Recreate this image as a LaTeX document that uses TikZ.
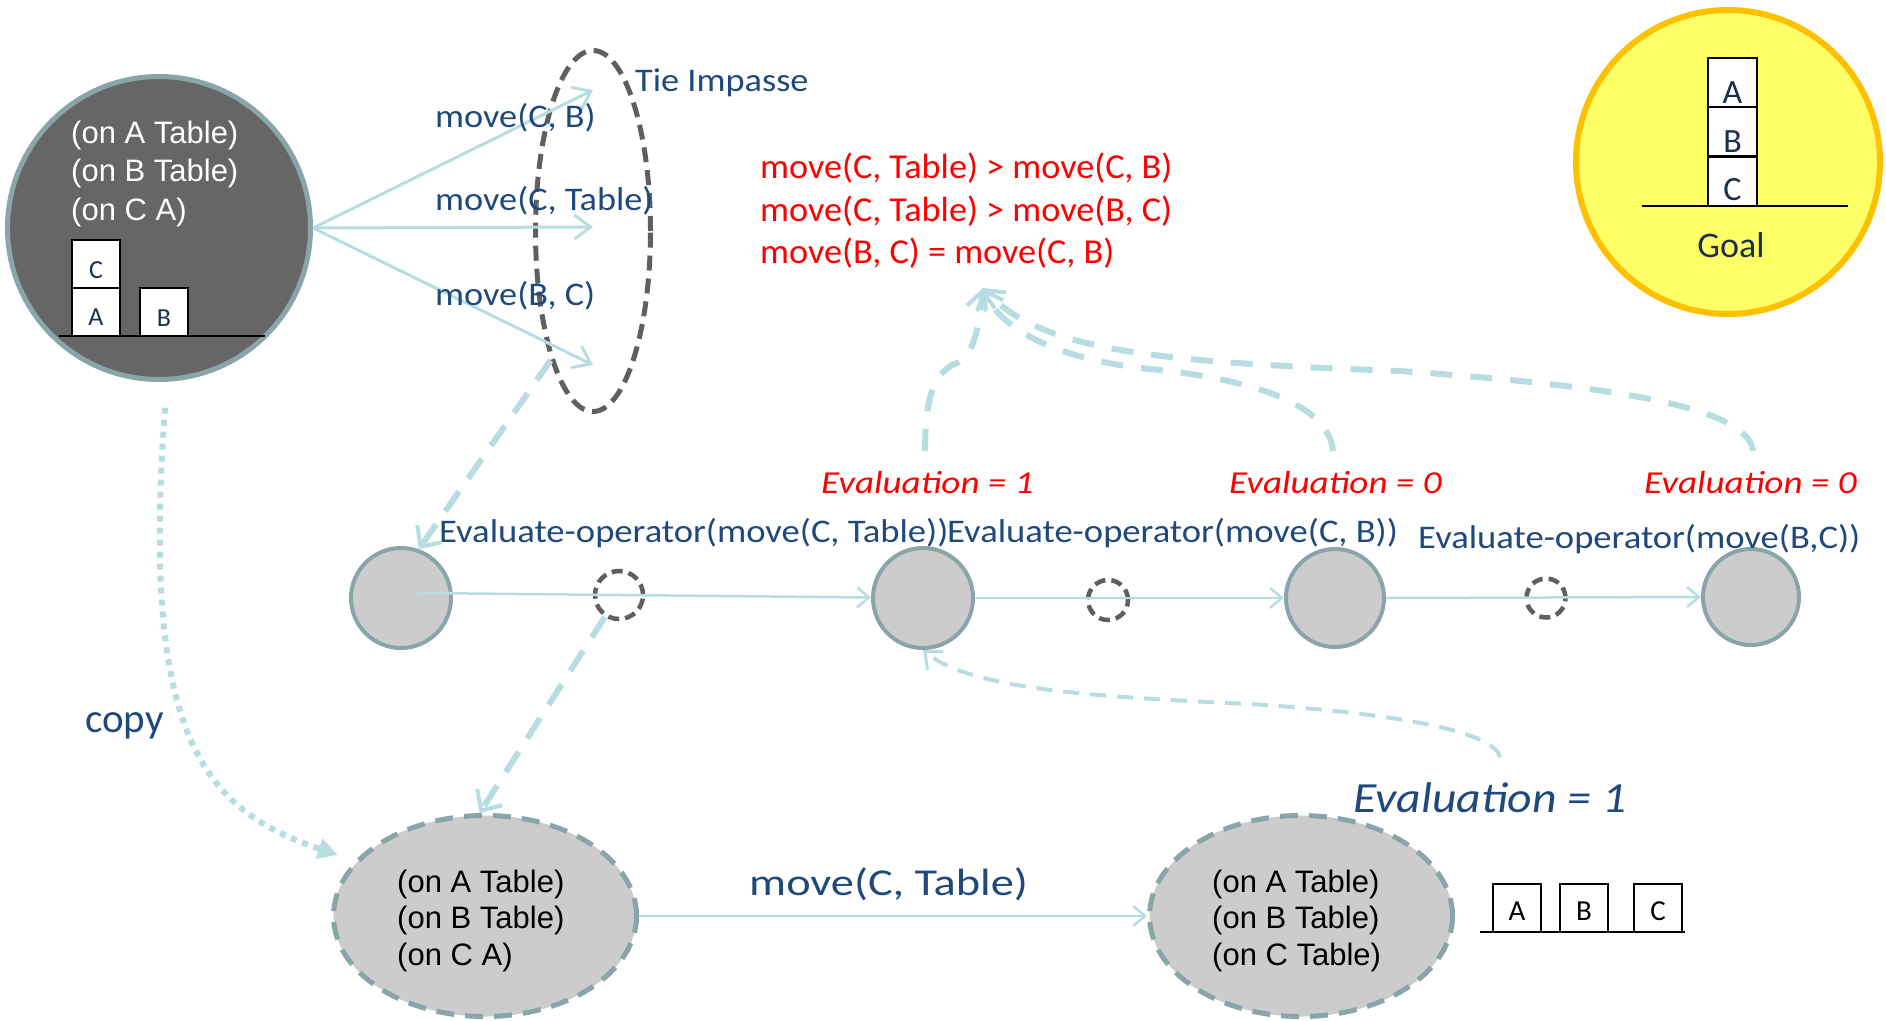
\documentclass[tikz,border=0pt]{standalone}
\usepackage{fontspec}
\usepackage{graphicx}
\setmainfont{Carlito}
\newfontfamily\arialf{Liberation Sans}
\usetikzlibrary{arrows.meta,shapes.geometric}
\newcommand{\hstr}[2]{\scalebox{#1}[1]{#2}}
\definecolor{lteal}{HTML}{B7DDE2}
\definecolor{sborder}{HTML}{8AA5A8}
\definecolor{sgray}{HTML}{CCCCCC}
\definecolor{dkfill}{HTML}{666666}
\definecolor{dgray}{HTML}{5F5F5F}
\definecolor{tblue}{HTML}{1F497D}
\definecolor{navy}{HTML}{1B2F4E}
\definecolor{goalfill}{HTML}{FFFF66}
\definecolor{goalline}{HTML}{FFC000}
\tikzset{
  lblue/.style={inner sep=0, text=tblue, font=\fontsize{33}{40}\selectfont, anchor=base west},
  lred/.style={inner sep=0, text=red, font=\fontsize{35}{40}\selectfont, anchor=base west},
  evred/.style={inner sep=0, text=red, font=\fontsize{32}{38}\selectfont\itshape, anchor=base west},
  arialt/.style={inner sep=0, font=\arialf\fontsize{31}{37}\selectfont, anchor=base west},
  blk/.style={draw=black, fill=white, line width=2pt, minimum width=48pt, minimum height=48pt, inner sep=0},
  blkl/.style={inner sep=0, text=navy},
  statec/.style={circle, draw=sborder, fill=sgray, line width=4pt, inner sep=0},
  opc/.style={circle, draw=dgray, dash pattern=on 11pt off 6pt, line width=4.5pt, inner sep=0},
  bigstate/.style={ellipse, draw=sborder, fill=sgray, line width=5pt, dash pattern=on 18pt off 11pt, minimum width=303pt, minimum height=201pt, inner sep=0},
  fan/.style={draw=lteal, line width=3pt, -{Straight Barb[length=16pt,width=24pt]}},
  bigdash/.style={draw=lteal, line width=6pt, dash pattern=on 24pt off 16pt, -{Straight Barb[length=16pt,width=30pt,line width=4pt]}},
  updash/.style={draw=lteal, line width=6pt, dash pattern=on 22pt off 18pt, -{Straight Barb[length=16pt,width=28pt,line width=4pt]}},
  smalldash/.style={draw=lteal, line width=4pt, dash pattern=on 16pt off 11pt, -{Straight Barb[length=14pt,width=24pt,line width=3pt]}},
  copyline/.style={draw=lteal, line width=6pt, dash pattern=on 6pt off 6pt, -{Triangle[length=20pt,width=20pt]}},
}
\begin{document}
\begin{tikzpicture}[x=1pt,y=-1pt]
\useasboundingbox (0,0) rectangle (1886,1020);

% ---------- top-left state ----------
\node[circle, draw=sborder, fill=dkfill, line width=5pt, minimum size=303pt, inner sep=0] (tl) at (159,228) {};
\node[arialt, text=white] (tl1) at (71,143) {(on A Table)};
\node[arialt, text=white] (tl2) at (71,181) {(on B Table)};
\node[arialt, text=white] (tl3) at (71,220) {(on C A)};
\node[blk] (bC) at (96,264) {};
\node[blk] (bA) at (96,312) {};
\node[blk] (bB) at (164,312) {};
\draw[line width=2pt] (59,336) -- (265,336);
\node[blkl, font=\fontsize{26}{26}\selectfont] (lC) at (96,270) {C};
\node[blkl, font=\fontsize{26}{26}\selectfont] (lA) at (96,317) {A};
\node[blkl, font=\fontsize{26}{26}\selectfont] (lB) at (164,318) {B};

% ---------- goal ----------
\node[circle, draw=goalline, fill=goalfill, line width=6pt, minimum size=304pt, inner sep=0] (goal) at (1728,162) {};
\node[blk, minimum width=49pt, minimum height=49pt] (gA) at (1732.5,82) {};
\node[blk, minimum width=49pt, minimum height=49pt] (gB) at (1732.5,131.5) {};
\node[blk, minimum width=49pt, minimum height=49pt] (gC) at (1732.5,181) {};
\node[blkl, font=\fontsize{34}{34}\selectfont] (gAl) at (1732.5,93) {A};
\node[blkl, font=\fontsize{34}{34}\selectfont] (gBl) at (1732.5,142) {B};
\node[blkl, font=\fontsize{34}{34}\selectfont] (gCl) at (1732.5,190) {C};
\draw[line width=2pt] (1642,206) -- (1848,206);
\node[inner sep=0, text=navy, font=\fontsize{36}{40}\selectfont, anchor=base] (goalt) at (1731,257) {Goal};

% ---------- tie impasse ----------
\node[ellipse, draw=dgray, line width=5pt, dash pattern=on 15pt off 8pt, minimum width=115pt, minimum height=361pt, inner sep=0] (tie) at (593,231) {};
\coordinate (f1) at (593,90);
\coordinate (f2) at (593,227);
\coordinate (f3) at (593,365);
\draw[fan] (tl.east) -- (f1);
\draw[fan] (tl.east) -- (f2);
\draw[fan] (tl.east) -- (f3);
\node[lblue] (m1) at (435,127) {\hstr{1.1}{move(C, B)}};
\node[lblue] (m2) at (435,210) {\hstr{1.1}{move(C, Table)}};
\node[lblue] (m3) at (435,305) {\hstr{1.1}{move(B, C)}};
\node[lblue] (tiel) at (635,91) {\hstr{1.1}{Tie Impasse}};

% ---------- preferences ----------
\node[lred] (r1) at (760,178) {\hstr{1.035}{move(C, Table) > move(C, B)}};
\node[lred] (r2) at (760,221) {\hstr{1.035}{move(C, Table) > move(B, C)}};
\node[lred] (r3) at (760,263) {\hstr{1.035}{move(B, C) = move(C, B)}};

% ---------- middle row ----------
\node[statec, minimum size=100pt] (E1) at (401,598) {};
\node[statec, minimum size=100pt] (E2) at (923,598) {};
\node[statec, minimum size=98pt] (E3) at (1335,598) {};
\node[statec, minimum size=96pt] (E4) at (1751,597) {};
\node[opc, minimum size=48pt] (D1) at (619,595) {};
\node[opc, minimum size=40pt] (D2) at (1108,600) {};
\node[opc, minimum size=39pt] (D3) at (1546,598) {};
\draw[fan, line width=2.5pt, -{Straight Barb[length=12pt,width=20pt]}] (E1.center) ++(17,-5) -- (E2);
\draw[fan, line width=2.5pt, -{Straight Barb[length=12pt,width=20pt]}] (E2.east) -- (E3.west);
\draw[fan, line width=2.5pt, -{Straight Barb[length=12pt,width=20pt]}] (E3.east) -- (E4.west);

\node[lblue] (eo1) at (439,542) {\hstr{1.11}{Evaluate-operator(move(C, Table))}};
\node[lblue] (eo2) at (947,542) {\hstr{1.11}{Evaluate-operator(move(C, B))}};
\node[lblue] (eo3) at (1418,548) {\hstr{1.11}{Evaluate-operator(move(B,C))}};
\node[evred] (ev1) at (821,493) {\hstr{1.16}{Evaluation = 1}};
\node[evred] (ev2) at (1229,493) {\hstr{1.16}{Evaluation = 0}};
\node[evred] (ev3) at (1644,493) {\hstr{1.16}{Evaluation = 0}};

% ---------- bottom row ----------
\node[bigstate] (S1) at (485,916) {};
\node[bigstate] (S2) at (1301,916) {};
\node[arialt] (s1a) at (397,892) {(on A Table)};
\node[arialt] (s1b) at (397,928) {(on B Table)};
\node[arialt] (s1c) at (397,965) {(on C A)};
\node[arialt] (s2a) at (1212,892) {(on A Table)};
\node[arialt] (s2b) at (1212,928) {(on B Table)};
\node[arialt] (s2c) at (1212,965) {(on C Table)};
\draw[fan, line width=2.5pt, -{Straight Barb[length=12pt,width=20pt]}] (S1.east) -- (S2.west);
\node[lblue, font=\fontsize{38}{44}\selectfont] (mvb) at (749,895) {\hstr{1.22}{move(C, Table)}};
\node[lblue, font=\fontsize{43}{48}\selectfont\itshape] (evb) at (1353,812) {\hstr{1.11}{Evaluation = 1}};
\node[lblue, font=\fontsize{41}{46}\selectfont] (copyl) at (85,732) {copy};

\node[blk] (rA) at (1517,908) {};
\node[blk] (rB) at (1584,908) {};
\node[blk] (rC) at (1658,908) {};
\draw[line width=2pt] (1480,932) -- (1685,932);
\node[inner sep=0, font=\fontsize{29}{29}\selectfont] (rAl) at (1517,911) {A};
\node[inner sep=0, font=\fontsize{29}{29}\selectfont] (rBl) at (1584,911) {B};
\node[inner sep=0, font=\fontsize{29}{29}\selectfont] (rCl) at (1658,911) {C};

% ---------- dashed connectors ----------
\draw[bigdash] (tie.south west) -- (E1.70);
\draw[bigdash] (D1.-123) -- (S1.93);
\coordinate (rtip) at (983,288);
\coordinate (sa) at (925,451);
\coordinate (sb) at (1333,451);
\coordinate (sc) at (1753,451);
\draw[updash] (sa) .. controls (925,395) and (935,372) .. (955,364) .. controls (972,358) and (978,335) .. (rtip);
\draw[updash] (sb) .. controls (1328,400) and (1240,378) .. (1150,369) .. controls (1060,360) and (1000,330) .. (rtip);
\draw[updash] (sc) .. controls (1748,405) and (1600,385) .. (1400,371) .. controls (1150,362) and (1040,350) .. (rtip);
\coordinate (sd) at (1500,757);
\draw[smalldash] (sd) .. controls (1495,735) and (1420,715) .. (1250,704) .. controls (1100,697) and (970,690) .. (E2.south);
\draw[copyline, shorten <=26pt, shorten >=18pt] (tl.-87) .. controls (140,740) and (205,810) .. (S1.157);
\end{tikzpicture}
\end{document}
